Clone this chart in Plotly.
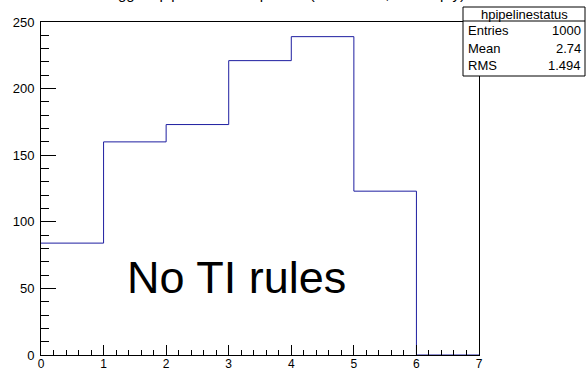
import plotly.graph_objects as go

# ---- data ----
bin_edges = [0, 1, 2, 3, 4, 5, 6, 7]
counts = [84, 160, 173, 221, 239, 123, 0]
title_text = "Triggers pipeline status per BX (no TI rules, 0 = empty)"
stats_name = "hpipelinestatus"
stats_labels = ["Entries", "Mean", "RMS"]
stats_values = ["1000", "2.74", "1.494"]
note_text = "No TI rules"

W, H = 587, 370
L, R, T, B = 41, 479, 22, 355  # plot area in pixels

def px(x):
    return (x - L) / (R - L)

def py(y):
    return (B - y) / (B - T)

fig = go.Figure()
fig.add_trace(go.Scatter(
    x=bin_edges,
    y=counts + [counts[-1]],
    mode="lines",
    line=dict(shape="hv", color="rgb(30,30,160)", width=1),
    hoverinfo="skip",
    showlegend=False,
))

font = "Liberation Sans, Arial, Helvetica, sans-serif"

fig.update_layout(
    width=W, height=H,
    margin=dict(l=L, r=W - R, t=T, b=H - B, pad=0, autoexpand=False),
    paper_bgcolor="white",
    plot_bgcolor="white",
    font=dict(family=font, size=13, color="black"),
    xaxis=dict(range=[0, 7], dtick=1, ticks="inside", ticklen=10, tickwidth=1,
               tickcolor="black", showgrid=False, zeroline=False, automargin=False,
               showline=True, linecolor="black", linewidth=1, mirror=True,
               minor=dict(dtick=0.2, ticks="inside", ticklen=5, tickcolor="black", showgrid=False),
               tickfont=dict(size=12), ticklabelstandoff=-2),
    yaxis=dict(range=[0, 250], dtick=50, ticks="inside", ticklen=15, tickwidth=1,
               tickcolor="black", showgrid=False, zeroline=False, automargin=False,
               showline=True, linecolor="black", linewidth=1, mirror=True,
               minor=dict(dtick=10, ticks="inside", ticklen=8, tickcolor="black", showgrid=False),
               tickfont=dict(size=13), ticklabelstandoff=3),
)

# title (cut off at top edge like the reference)
fig.add_annotation(text=title_text, xref="paper", yref="paper",
                   x=px(283), y=py(-7), xanchor="center", yanchor="middle",
                   showarrow=False, font=dict(size=15))

# stats box
bx0, bx1, by0, by1, hy = 463, 585, 7, 76, 21
fig.add_shape(type="rect", xref="paper", yref="paper",
              x0=px(bx0), x1=px(bx1), y0=py(by1), y1=py(by0),
              line=dict(color="black", width=1), fillcolor="white", layer="above")
fig.add_shape(type="line", xref="paper", yref="paper",
              x0=px(bx0), x1=px(bx1), y0=py(hy), y1=py(hy),
              line=dict(color="black", width=1), layer="above")
fig.add_annotation(text=stats_name, xref="paper", yref="paper",
                   x=px((bx0 + bx1) / 2), y=py(14), xanchor="center", yanchor="middle",
                   showarrow=False, font=dict(size=13))
for i, (lab, val) in enumerate(zip(stats_labels, stats_values)):
    yy = 31 + i * 17
    fig.add_annotation(text=lab, xref="paper", yref="paper", x=px(bx0 + 3), y=py(yy),
                       xanchor="left", yanchor="middle", showarrow=False, font=dict(size=13))
    fig.add_annotation(text=val, xref="paper", yref="paper", x=px(bx1 - 2), y=py(yy),
                       xanchor="right", yanchor="middle", showarrow=False, font=dict(size=13))

# big note text
fig.add_annotation(text=note_text, xref="paper", yref="paper", x=px(125), y=py(277),
                   xanchor="left", yanchor="middle", showarrow=False,
                   font=dict(size=45, color="black"))

fig.write_html("out.html", config={"displayModeBar": False},
               post_script="document.body.style.margin='0';document.body.style.overflow='hidden';")
